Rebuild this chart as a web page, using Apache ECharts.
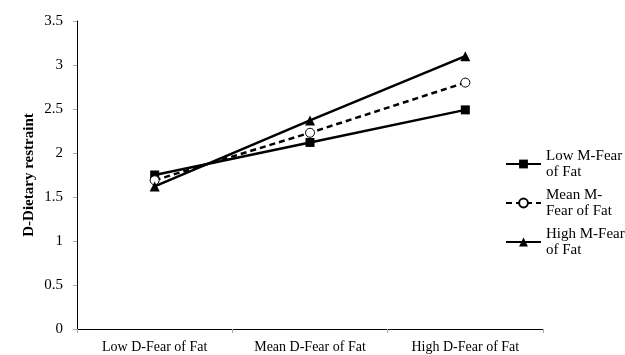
<!DOCTYPE html>
<html><head><meta charset="utf-8">
<script src="https://cdn.jsdelivr.net/npm/echarts@6/dist/echarts.min.js"></script>
<style>html,body{margin:0;padding:0;background:#fff}#c{width:625px;height:355px}</style>
</head><body><div id="c"></div>
<script>
const categories = ['Low D-Fear of Fat', 'Mean D-Fear of Fat', 'High D-Fear of Fat'];
const lowM = [1.75, 2.12, 2.49];
const meanM = [1.69, 2.23, 2.80];
const highM = [1.62, 2.37, 3.10];
const seriesNames = ['Low M-Fear\nof Fat', 'Mean M-\nFear of Fat', 'High M-Fear\nof Fat'];
const yTicks = [0, 0.5, 1, 1.5, 2, 2.5, 3, 3.5];

const font = 'Liberation Serif, Times New Roman, serif';
const chart = echarts.init(document.getElementById('c'));
chart.setOption({
  animation: false,
  backgroundColor: '#fff',
  grid: { left: 77, right: 82, top: 21, bottom: 26 },
  legend: {
    orient: 'vertical', left: 500, top: 143, itemWidth: 35, itemHeight: 11, itemGap: 7,
    textStyle: { fontFamily: font, fontSize: 15, color: '#000', lineHeight: 16 },
    data: seriesNames
  },
  xAxis: {
    type: 'category', data: categories, boundaryGap: true,
    axisLine: { lineStyle: { color: '#000', width: 1 } },
    axisTick: { show: true, length: 4, lineStyle: { color: '#aaa' } },
    axisLabel: { fontFamily: font, fontSize: 14, color: '#000', margin: 11, interval: 0 }
  },
  yAxis: {
    type: 'value', min: 0, max: 3.5, interval: 0.5,
    name: 'D-Dietary restraint', nameLocation: 'middle', nameGap: 40, nameMoveOverlap: false,
    nameTextStyle: { fontFamily: font, fontSize: 15, fontWeight: 'bold', color: '#000' },
    splitLine: { show: false },
    axisLine: { show: true, lineStyle: { color: '#000', width: 1 } },
    axisTick: { show: true, length: 4, lineStyle: { color: '#aaa' } },
    axisLabel: { fontFamily: font, fontSize: 15, color: '#000', margin: 14,
      formatter: v => yTicks.includes(v) ? String(v) : '' }
  },
  series: [
    { name: seriesNames[0], type: 'line', data: lowM, symbol: 'rect', symbolSize: 9,
      lineStyle: { color: '#000', width: 2.5 }, itemStyle: { color: '#000' } },
    { name: seriesNames[1], type: 'line', data: meanM, symbol: 'circle', symbolSize: 9,
      lineStyle: { color: '#000', width: 2.5, type: [6, 4] }, itemStyle: { color: '#fff', borderColor: '#000', borderWidth: 1 } },
    { name: seriesNames[2], type: 'line', data: highM, symbol: 'triangle', symbolSize: 10,
      lineStyle: { color: '#000', width: 2.5 }, itemStyle: { color: '#000' } }
  ]
});
</script></body></html>
